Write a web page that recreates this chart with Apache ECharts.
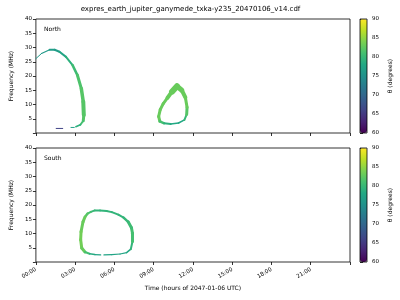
<!DOCTYPE html>
<html><head><meta charset="utf-8">
<script src="https://cdn.jsdelivr.net/npm/echarts/dist/echarts.min.js"></script>
<style>html,body{margin:0;padding:0;background:#fff}#c{width:400px;height:300px}</style>
</head><body><div id="c"></div>
<script>
// ---- data ----
const hourLabels = ['00:00','03:00','06:00','09:00','12:00','15:00','18:00','21:00'];
const freqTicks = [5,10,15,20,25,30,35,40];
const thetaTicks = [60,65,70,75,80,85,90];

// North: first arc (time in hours, frequency MHz, theta deg, drawn width)
const northA_t  = [0.0, 0.43, 1.05, 1.43, 1.8, 2.3, 2.8, 3.17, 3.47, 3.62, 3.66, 3.62, 3.4, 3.05];
const northA_f  = [26.1, 27.9, 29.2, 29.2, 28.5, 26.7, 23.8, 20.3, 15.6, 11.0, 6.3, 4.3, 2.9, 2.2];
const northA_th = [76, 76, 76.5, 76.5, 77.5, 79, 80.5, 81.5, 82, 82, 82, 81, 79, 77];
const northA_w  = [1, 1.2, 2, 2, 2, 2, 2.5, 3, 3.5, 4, 3, 2, 1.5, 1];
// North: short pieces near the bottom
const northB_t  = [2.68, 2.93];
const northB_f  = [1.95, 1.95];
const northB_th = [77, 77];
const northB_w  = [1, 1];
const northC_t  = [1.55, 2.05];
const northC_f  = [1.6, 1.6];
const northC_th = [66, 66];
const northC_w  = [1, 1];
// North: second (closed) emission
const northD_t  = [10.78, 10.4, 10.05, 9.72, 9.5, 9.38, 9.47, 9.8, 10.3, 10.9, 11.35, 11.52, 11.55, 11.42, 11.15, 10.78];
const northD_f  = [16.4, 14.5, 12.3, 10.2, 8.2, 5.8, 4.1, 3.4, 3.2, 3.5, 4.6, 6.5, 9.0, 12.5, 15.0, 16.4];
const northD_th = [83, 83, 83, 83, 83, 83, 81, 79, 78, 78, 80, 82, 83, 83, 83, 83];
const northD_w  = [6, 4, 3, 3, 3, 3, 2.5, 2, 1.5, 1.5, 2, 3, 3, 4, 5, 6];
// South: closed emission
const southA_t  = [5.2, 5.8, 6.43, 6.93, 7.25, 7.38, 7.38, 7.3, 7.05, 6.7, 6.3, 5.8, 5.4, 4.9, 4.5, 4.2, 3.95, 3.75, 3.6, 3.45, 3.42, 3.5, 3.75, 4.1, 4.5, 4.95];
const southA_f  = [2.5, 2.6, 2.8, 3.3, 4.5, 7.2, 10.1, 12.0, 14.1, 15.6, 16.6, 17.5, 17.9, 18.1, 18.1, 17.6, 17.0, 15.8, 14.1, 10.6, 7.8, 4.9, 3.5, 2.9, 2.6, 2.5];
const southA_th = [77.5, 77.5, 77.5, 78, 79.5, 81, 81, 80.5, 80, 79.5, 79.5, 79.5, 79.5, 79.5, 80, 81, 82, 83, 83, 83.5, 83.5, 83, 81, 78.5, 77.5, 77.5];
const southA_w  = [1.2, 1.2, 1.2, 1.5, 2, 3, 3, 3, 2.5, 2, 2, 2, 2, 2, 2, 2, 2.5, 3, 3, 3, 3, 3, 2, 1.5, 1.2, 1.2];

const viridis = ['#440154','#482475','#414487','#355f8d','#2a788e','#21918c','#22a884','#44bf70','#7ad151','#bddf26','#fde725'];
const FONT = 'DejaVu Sans';

function makeSeries(T, F, TH, W, gi) {
  const data = T.map((t, i) => [t, F[i], TH[i], W[i]]);
  return {
    type: 'custom', xAxisIndex: gi, yAxisIndex: gi, data: data, clip: true,
    dimensions: ['t', 'f', 'theta', 'w'],
    encode: { x: 0, y: 1 },
    renderItem: function (params, api) {
      const i = params.dataIndex;
      if (i >= data.length - 1) return { type: 'group', children: [] };
      const p0 = api.coord([data[i][0], data[i][1]]);
      const p1 = api.coord([data[i + 1][0], data[i + 1][1]]);
      return { type: 'line', shape: { x1: p0[0], y1: p0[1], x2: p1[0], y2: p1[1] },
        style: { stroke: api.visual('color'), lineWidth: data[i][3], lineCap: 'round' } };
    }
  };
}

const G = [
  { left: 31, top: 19, width: 319, height: 114 },
  { left: 31, top: 148, width: 319, height: 114 },
];
const grids = [], xAxes = [], yAxes = [];
G.forEach((g, k) => {
  grids.push({ left: g.left, top: g.top, width: g.width, height: g.height, show: true, borderColor: '#000', borderWidth: 0.8, containLabel: false });
  xAxes.push({ type: 'value', gridIndex: k, min: 0, max: 24, interval: 3,
    axisLine: { show: false }, splitLine: { show: false },
    axisTick: { show: true, length: 3, lineStyle: { color: '#000', width: 0.8 } },
    axisLabel: { show: k === 1, rotate: 30, fontSize: 5.5, fontFamily: FONT, color: '#000', margin: 7,
      formatter: v => (v < 24 ? hourLabels[Math.round(v / 3)] : '') },
    name: k === 1 ? 'Time (hours of 2047-01-06 UTC)' : '', nameLocation: 'middle', nameGap: 23,
    nameTextStyle: { fontSize: 6, fontFamily: FONT, color: '#000' } });
  yAxes.push({ type: 'value', gridIndex: k, min: 0, max: 40, interval: 5,
    axisLine: { show: false }, splitLine: { show: false },
    axisTick: { show: true, length: 3, lineStyle: { color: '#000', width: 0.8 } },
    axisLabel: { fontSize: 5.5, fontFamily: FONT, color: '#000', margin: 4,
      formatter: v => (freqTicks.indexOf(v) >= 0 ? String(v) : '') },
    name: 'Frequency (MHz)', nameLocation: 'middle', nameGap: 17,
    nameTextStyle: { fontSize: 6, fontFamily: FONT, color: '#000' } });
});
// colorbar axes
G.forEach((g, k) => {
  grids.push({ left: 360, top: g.top, width: 7, height: g.height, show: true, borderColor: '#000', borderWidth: 0.8, backgroundColor: 'transparent', z: 10 });
  xAxes.push({ type: 'value', gridIndex: 2 + k, show: false, min: 0, max: 1 });
  yAxes.push({ type: 'value', gridIndex: 2 + k, position: 'right', min: 60, max: 90, interval: 5,
    axisLine: { show: false }, splitLine: { show: false },
    axisTick: { show: true, length: 3, lineStyle: { color: '#000', width: 0.8 } },
    axisLabel: { fontSize: 5.5, fontFamily: FONT, color: '#000', margin: 5,
      formatter: v => (thetaTicks.indexOf(v) >= 0 ? String(v) : '') },
    name: 'θ (degrees)', nameLocation: 'middle', nameGap: 20, nameRotate: 90,
    nameTextStyle: { fontSize: 6, fontFamily: FONT, color: '#000' } });
});

const series = [
  makeSeries(northA_t, northA_f, northA_th, northA_w, 0),
  makeSeries(northB_t, northB_f, northB_th, northB_w, 0),
  makeSeries(northC_t, northC_f, northC_th, northC_w, 0),
  makeSeries(northD_t, northD_f, northD_th, northD_w, 0),
  makeSeries(southA_t, southA_f, southA_th, southA_w, 1),
];

const chart = echarts.init(document.getElementById('c'), null, { renderer: 'canvas' });
chart.setOption({
  animation: false,
  backgroundColor: '#fff',
  grid: grids, xAxis: xAxes, yAxis: yAxes, series: series,
  visualMap: [
    { type: 'continuous', min: 60, max: 90, dimension: 2, seriesIndex: [0, 1, 2, 3],
      inRange: { color: viridis }, calculable: false, hoverLink: false, padding: 0,
      itemWidth: 7, itemHeight: 114, left: 360, top: 19, orient: 'vertical', text: null, showLabel: false },
    { type: 'continuous', min: 60, max: 90, dimension: 2, seriesIndex: [4],
      inRange: { color: viridis }, calculable: false, hoverLink: false, padding: 0,
      itemWidth: 7, itemHeight: 114, left: 360, top: 148, orient: 'vertical', text: null, showLabel: false },
  ],
  graphic: [
    { type: 'text', x: 190.5, y: 6, style: { text: 'expres_earth_jupiter_ganymede_txka-y235_20470106_v14.cdf', fontSize: 7, fontFamily: FONT, fill: '#000', align: 'center' } },
    { type: 'text', x: 44, y: 26, style: { text: 'North', fontSize: 6, fontFamily: FONT, fill: '#000' } },
    { type: 'text', x: 44, y: 155, style: { text: 'South', fontSize: 6, fontFamily: FONT, fill: '#000' } },
  ]
});
</script>
</body></html>
